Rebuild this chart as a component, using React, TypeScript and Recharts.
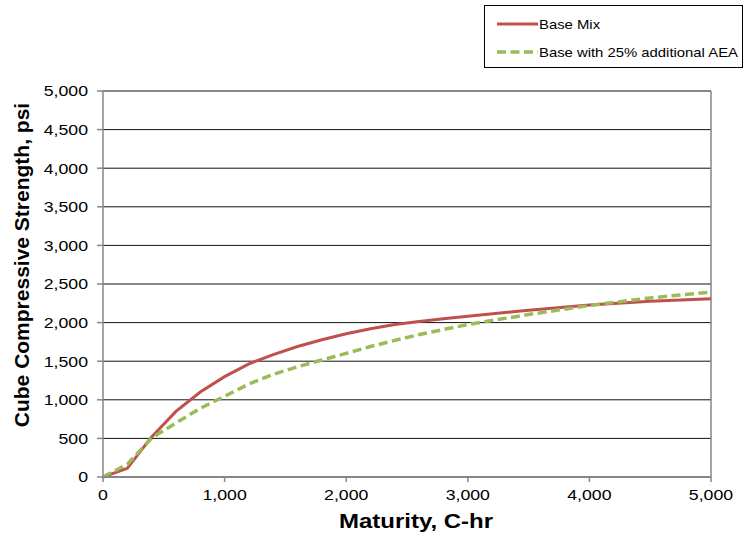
import React from 'react';
import { LineChart, Line, XAxis, YAxis, CartesianGrid, ReferenceLine, Label } from 'recharts';

const maturity = [0, 200, 400, 600, 800, 1000, 1200, 1400, 1600, 1800, 2000, 2200, 2400, 2600, 2800, 3000, 3500, 4000, 4500, 5000];
const baseMix = [0, 112, 520, 850, 1100, 1300, 1465, 1585, 1690, 1778, 1855, 1920, 1975, 2015, 2050, 2082, 2160, 2228, 2275, 2310];
const baseAEA = [0, 165, 505, 700, 890, 1045, 1205, 1330, 1428, 1515, 1602, 1690, 1770, 1845, 1910, 1975, 2105, 2222, 2320, 2395];

const seriesNames = ['Base Mix', 'Base with 25% additional AEA'];
const xTicks = [0, 1000, 2000, 3000, 4000, 5000];
const yTicks = [0, 500, 1000, 1500, 2000, 2500, 3000, 3500, 4000, 4500, 5000];
const xTitle = 'Maturity, C-hr';
const yTitle = 'Cube Compressive Strength, psi';

const RED = '#C0504D';
const GREEN = '#9BBB59';
const AXIS = '#868686';
const FONT = '"Liberation Sans", Arial, sans-serif';
const SX = 1.18;

const rows = maturity.map((m, i) => ({ m, a: baseMix[i], b: baseAEA[i] }));
const fmt = (v: number) => v.toLocaleString('en-US');

const XTick = (props: any) => {
  const { x, y, payload } = props;
  return (
    <text transform={`translate(${x},${y}) scale(${SX},1)`} x={0} y={0} dy="0.71em" textAnchor="middle"
      fontFamily={FONT} fontSize={15} fill="#000">{fmt(payload.value)}</text>
  );
};

const YTick = (props: any) => {
  const { x, y, payload } = props;
  return (
    <text transform={`translate(${x},${y}) scale(${SX},1)`} x={0} y={0} dy="0.355em" textAnchor="end"
      fontFamily={FONT} fontSize={15} fill="#000">{fmt(payload.value)}</text>
  );
};

const XTitle = (props: any) => {
  const vb = props.viewBox || {};
  const cx = vb.x + vb.width / 2 + 9;
  const cy = vb.y + 51;
  return (
    <text transform={`translate(${cx},${cy}) scale(1.17,1)`} x={0} y={0} textAnchor="middle"
      fontFamily={FONT} fontSize={20.5} fontWeight="bold" fill="#000">{xTitle}</text>
  );
};

const YTitle = (props: any) => {
  const vb = props.viewBox || {};
  const cx = vb.x + 21;
  const cy = vb.y + vb.height / 2 - 19;
  return (
    <text transform={`translate(${cx},${cy}) rotate(-90)`} x={0} y={0} dy="0.36em" textAnchor="middle"
      fontFamily={FONT} fontSize={21} fontWeight="bold" fill="#000">{yTitle}</text>
  );
};

const LegendBox = () => (
  <svg width={747} height={80} style={{ position: 'absolute', left: 0, top: 0, pointerEvents: 'none' }}>
    <rect x={484.5} y={5.5} width={258} height={62} fill="#fff" stroke="#000" strokeWidth={1} />
    <line x1={497} y1={24} x2={538} y2={24} stroke={RED} strokeWidth={3} />
    <text transform={`translate(539,24) scale(1.17,1)`} dy="0.36em" fontFamily={FONT} fontSize={12.7} fill="#000">{seriesNames[0]}</text>
    <line x1={497} y1={52} x2={538} y2={52} stroke={GREEN} strokeWidth={3.5} strokeDasharray="9 4.5" />
    <text transform={`translate(539,52) scale(1.17,1)`} dy="0.36em" fontFamily={FONT} fontSize={12.7} fill="#000">{seriesNames[1]}</text>
  </svg>
);

export default function App() {
  return (
    <div style={{ position: 'absolute', left: 0, top: 0, width: 747, height: 537, background: '#fff' }}>
      <LineChart width={747} height={537} data={rows} margin={{ top: 91, right: 36, bottom: 0, left: 0 }}>
        <CartesianGrid horizontal={true} vertical={false} stroke="#111" strokeWidth={1} />
        <XAxis dataKey="m" type="number" domain={[0, 5000]} ticks={xTicks} interval={0} height={60}
          tick={<XTick />} tickSize={5} tickMargin={7}
          axisLine={{ stroke: AXIS, strokeWidth: 1.5 }} tickLine={{ stroke: AXIS, strokeWidth: 1.5 }}>
          <Label content={<XTitle />} />
        </XAxis>
        <YAxis type="number" domain={[0, 5000]} ticks={yTicks} interval={0} width={103}
          tick={<YTick />} tickSize={6} tickMargin={9}
          axisLine={{ stroke: AXIS, strokeWidth: 1.5 }} tickLine={{ stroke: AXIS, strokeWidth: 1.5 }}>
          <Label content={<YTitle />} />
        </YAxis>
        <ReferenceLine x={5000} stroke={AXIS} strokeWidth={1.5} />
        <Line type="linear" dataKey="a" name={seriesNames[0]} stroke={RED} strokeWidth={3} dot={false} isAnimationActive={false} />
        <Line type="linear" dataKey="b" name={seriesNames[1]} stroke={GREEN} strokeWidth={3.5} strokeDasharray="9 4.5" dot={false} isAnimationActive={false} />
      </LineChart>
      <LegendBox />
    </div>
  );
}
